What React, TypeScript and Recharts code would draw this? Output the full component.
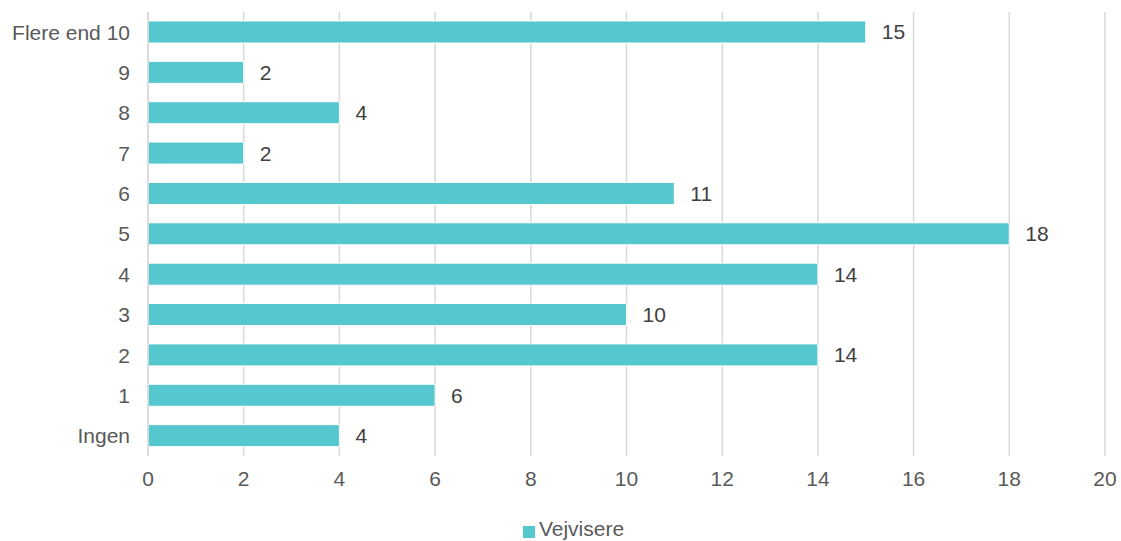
import { Bar, BarChart, CartesianGrid, LabelList, Legend, XAxis, YAxis } from 'recharts'

const categories = ['Flere end 10', '9', '8', '7', '6', '5', '4', '3', '2', '1', 'Ingen']
const vejvisere = [15, 2, 4, 2, 11, 18, 14, 10, 14, 6, 4]
const xTicks = [0, 2, 4, 6, 8, 10, 12, 14, 16, 18, 20]

const data = categories.map((name, i) => ({ name, value: vejvisere[i] }))

const font = '"Liberation Sans", Arial, sans-serif'

export default function App() {
    return (
        <div style={{ fontFamily: font, position: 'absolute', top: 0, left: 0, width: 1121, height: 541 }}>
            <BarChart
                width={1121}
                height={541}
                data={data}
                layout='vertical'
                margin={{ top: 12, right: 16, bottom: 0, left: 0 }}
                barSize={22}
            >
                <CartesianGrid horizontal={false} stroke='#d9d9d9' strokeWidth={1.5} />
                <XAxis
                    type='number'
                    domain={[0, 20]}
                    ticks={xTicks}
                    axisLine={false}
                    tickLine={false}
                    tickSize={0}
                    tickMargin={15}
                    height={61}
                    tick={{ fill: '#595959', fontSize: 21, fontFamily: font }}
                />
                <YAxis
                    type='category'
                    dataKey='name'
                    width={148}
                    axisLine={{ stroke: '#d9d9d9', strokeWidth: 1.5 }}
                    tickLine={false}
                    tickSize={0}
                    tickMargin={18}
                    interval={0}
                    tick={{ fill: '#595959', fontSize: 21, fontFamily: font }}
                />
                <Legend
                    verticalAlign='bottom'
                    iconType='square'
                    iconSize={12}
                    wrapperStyle={{ paddingLeft: 26 }}
                    formatter={(v) => <span style={{ color: '#595959', fontSize: 21 }}>{v}</span>}
                />
                <Bar
                    dataKey='value'
                    name='Vejvisere'
                    fill='#55C7CE'
                    stroke='#ffffff'
                    strokeWidth={1}
                    isAnimationActive={false}
                >
                    <LabelList
                        dataKey='value'
                        position='right'
                        offset={16}
                        fill='#404040'
                        fontSize={21}
                        fontFamily={font}
                    />
                </Bar>
            </BarChart>
        </div>
    )
}
